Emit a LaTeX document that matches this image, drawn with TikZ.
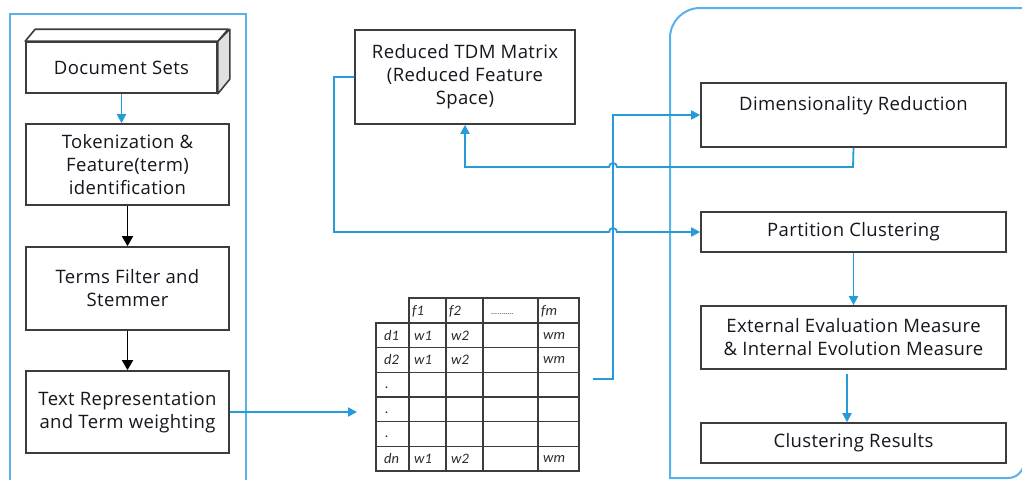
\documentclass[tikz,border=0pt]{standalone}
\usepackage{fontspec}
\setmainfont[LetterSpace=2]{Open Sans}
\newfontfamily\tabfont{Carlito}
\usetikzlibrary{arrows.meta}
\definecolor{cblue}{RGB}{38,155,216}
\definecolor{contblue}{RGB}{88,178,232}
\definecolor{boxgray}{RGB}{60,60,60}
\definecolor{txt}{RGB}{25,20,30}
\tikzset{
  box/.style={draw=boxgray, line width=1.6pt, fill=white, align=center, inner sep=2pt,
    font=\fontsize{18.5}{23}\selectfont, text=txt},
  bconn/.style={draw=cblue, line width=1.8pt},
  barrow/.style={bconn, -{Triangle[length=9pt,width=9pt]}},
  karrow/.style={draw=black, line width=1.6pt, -{Triangle[length=10pt,width=11pt]}},
  cont/.style={draw=contblue, line width=2pt},
  tline/.style={draw=boxgray, line width=1.3pt},
  tcell/.style={font=\tabfont\itshape\fontsize{14.5}{14.5}\selectfont, text=boxgray!70!black, inner sep=0pt, anchor=west},
}
\begin{document}
\begin{tikzpicture}[x=1pt,y=-1pt]
\useasboundingbox (0,0) rectangle (1022,479);
% containers
\draw[cont] (9.5,481) -- (9.5,14) -- (246,14) -- (246,481);
\draw[cont] (1030,8) -- (700,8) arc[start angle=270, end angle=180, radius=30] -- (670,478) -- (1008,478) arc[start angle=90, end angle=0, radius=16];
% left column
\node[box, minimum width=191pt, minimum height=51pt] (docs) at (121.5,67.5) {Document Sets};
\fill[white!88!black, draw=boxgray, line width=1.6pt, line join=round] (docs.north east) -- ++(12,-12) -- ++(0,50) -- (docs.south east) -- cycle;
\fill[white, draw=boxgray, line width=1.6pt, line join=round] (docs.north west) -- ++(10,-12) -- ++(193,0) -- (docs.north east) -- cycle;
\node[box, minimum width=203pt, minimum height=81pt] (tok) at (127.5,164.5) {Tokenization \&\\Feature(term)\\identification};
\node[box, minimum width=203pt, minimum height=83pt] (filt) at (127.5,288.5) {Terms Filter and\\Stemmer};
\node[box, minimum width=203pt, minimum height=82pt] (trep) at (127.5,412) {Text Representation\\and Term weighting};
% middle
\node[box, minimum width=220pt, minimum height=94pt] (rtdm) at (465,77) {Reduced TDM Matrix\\(Reduced Feature\\Space)};
% table
\node[minimum width=203pt, minimum height=173pt, inner sep=0pt] (tab) at (477.5,384.5) {};
\draw[tline] (409,298) rectangle (579,471);
\draw[tline] (376,323) rectangle (579,471);
\foreach \x in {409,446,483,538} \draw[tline] (\x,298) -- (\x,471);
\foreach \y in {323,347.7,372.3,397,421.7,446.3} \draw[tline] (376,\y) -- (579,\y);
\node[tcell] (h1) at (412,311) {f1};
\node[tcell] (h2) at (449,311) {f2};
\node[tcell, font=\tabfont\fontsize{8}{8}\selectfont] (h3) at (491,314) {...........};
\node[tcell] (h4) at (541,311) {fm};
\foreach \r/\y/\d in {1/335.5/d1,2/360/d2,3/458.7/dn} {
  \node[tcell] (d\r) at (384,\y) {\d};
  \node[tcell] (wa\r) at (414,\y) {w1};
  \node[tcell] (wb\r) at (451,\y) {w2};
  \node[tcell] (wm\r) at (543,\y) {wm};
}
\foreach \y [count=\i] in {388,412.5,437} \node[tcell] (dot\i) at (385,\y) {.};
\coordinate (tin) at (357,412);
\coordinate (tout) at (593,379);
% right
\node[box, minimum width=305pt, minimum height=64pt] (dimred) at (853.5,115) {Dimensionality Reduction\\\mbox{}};
\node[box, minimum width=305pt, minimum height=40pt] (part) at (853.5,232) {Partition Clustering};
\node[box, minimum width=305pt, minimum height=63pt] (ext) at (853.5,337.5) {External Evaluation Measure\\\& Internal Evolution Measure};
\node[box, minimum width=305pt, minimum height=40pt] (res) at (853.5,443) {Clustering Results};
% connectors
\draw[barrow] (docs.south) -- (docs.south |- tok.north);
\draw[karrow] (tok.south) -- (filt.north);
\draw[karrow] (filt.south) -- (trep.north);
\draw[barrow] (trep.east) -- (tin);
\draw[barrow] (tout) -- (613,379) -- (613,115) -- (dimred.west);
\draw[barrow] (rtdm.west) -- (334,77) -- (334,232) -- (609,232) arc[start angle=180, end angle=360, radius=4] -- (part.west);
\draw[barrow] (dimred.south) -- (853,167) -- (617,167) arc[start angle=0, end angle=-180, radius=4] -- (465,167) -- (rtdm.south);
\draw[barrow] (part.south) -- (ext.north);
\draw[barrow, shorten <=4pt] ([xshift=-6.5pt]ext.south) -- ([xshift=-6.5pt]res.north);
\end{tikzpicture}
\end{document}
